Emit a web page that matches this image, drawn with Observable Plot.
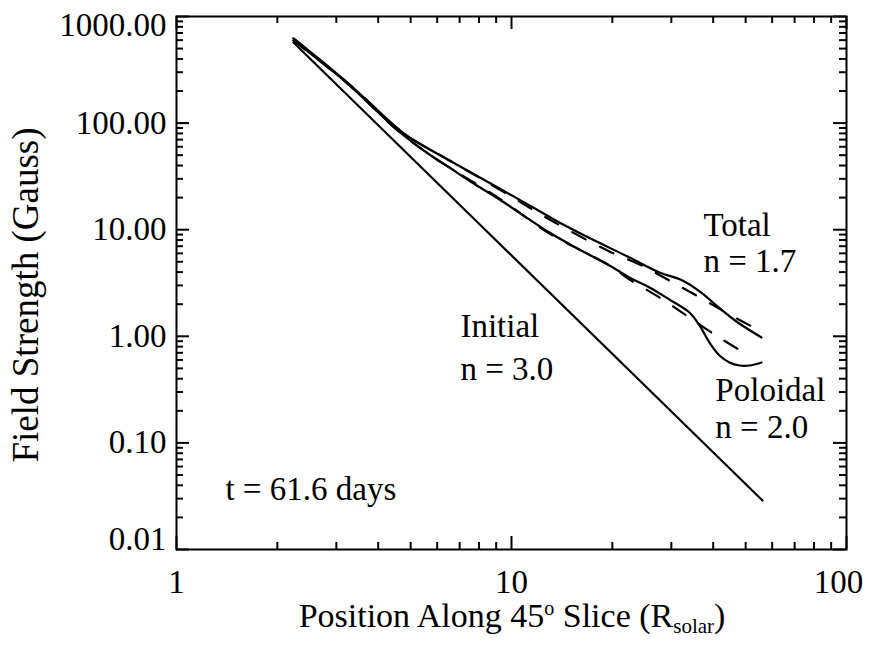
<!DOCTYPE html>
<html><head><meta charset="utf-8">
<script src="https://cdn.jsdelivr.net/npm/d3@7"></script>
<script src="https://cdn.jsdelivr.net/npm/@observablehq/plot@0.6"></script>
<style>
body{margin:0;background:#fff;}
svg{font-family:"Liberation Serif","Times New Roman",serif;}
</style>
</head><body><div id="chart"></div>
<script>
// ---- data ----
const xInitial = [2.235, 56.15];
const yInitial = [570, 0.0288];

const xTotal = [2.235, 3.285, 4.536, 4.961, 6.530, 9.209, 11.47, 13.72, 16.75, 22.50, 27.66, 32.39, 37.17, 40.92, 46.95, 55.76];
const yTotal = [622, 230, 90.9, 73.3, 44.6, 24.35, 16.51, 11.94, 8.63, 5.49, 3.97, 3.34, 2.52, 1.944, 1.377, 0.974];

const xTotalFit = [2.235, 3.285, 4.536, 4.961, 6.530, 9.209, 12.98, 19.61, 24.11, 29.22, 35.67, 44.14, 54.25];
const yTotalFit = [622, 230, 90.9, 73.3, 44.6, 23.8, 12.47, 6.24, 4.72, 3.41, 2.41, 1.64, 1.158];

const xPoloidal = [2.235, 3.285, 4.536, 5.577, 6.530, 7.544, 9.209, 12.98, 15.74, 19.61, 22.50, 25.82, 29.62, 33.99, 36.41, 39.00, 41.78, 44.75, 47.93, 51.33, 55.76];
const yPoloidal = [596, 226, 87.1, 53.0, 38.3, 28.3, 19.2, 9.41, 6.66, 4.62, 3.56, 2.87, 2.21, 1.67, 1.263, 0.874, 0.660, 0.568, 0.532, 0.532, 0.568];

const xPoloidalFit = [2.235, 3.285, 4.536, 5.577, 6.530, 9.209, 12.98, 19.61, 22.50, 27.66, 33.99, 41.20, 49.94];
const yPoloidalFit = [596, 226, 87.1, 53.0, 38.3, 19.6, 9.2, 4.62, 3.41, 2.31, 1.50, 0.996, 0.690];

const xMajor = [1, 10, 100];
const xTickLabels = ["1", "10", "100"];
const xMinor = [2, 3, 4, 5, 6, 7, 8, 9, 20, 30, 40, 50, 60, 70, 80, 90];
const yMajor = [0.01, 0.1, 1, 10, 100, 1000];
const yTickLabels = ["0.01", "0.10", "1.00", "10.00", "100.00", "1000.00"];
const yMinor = [0.02, 0.03, 0.04, 0.05, 0.06, 0.07, 0.08, 0.09,
  0.2, 0.3, 0.4, 0.5, 0.6, 0.7, 0.8, 0.9,
  2, 3, 4, 5, 6, 7, 8, 9,
  20, 30, 40, 50, 60, 70, 80, 90,
  200, 300, 400, 500, 600, 700, 800, 900];

const annotations = [
  {x: 7.04, y: 0.975, text: "Initial"},
  {x: 7.04, y: 0.393, text: "n = 3.0"},
  {x: 37.4, y: 8.8, text: "Total"},
  {x: 37.4, y: 3.97, text: "n = 1.7"},
  {x: 40.6, y: 0.248, text: "Poloidal"},
  {x: 40.6, y: 0.110, text: "n = 2.0"},
  {x: 1.40, y: 0.0294, text: "t = 61.6 days"}
];

// ---- layout ----
const W = 884, H = 647, mL = 176, mR = 38, mT = 16, mB = 98;
const fh = H - mT - mB, fw = W - mL - mR;
const FS = 33;
const FF = "'Liberation Serif', 'Times New Roman', serif";
const toRows = (xs, ys) => xs.map((x, i) => ({x, y: ys[i]}));
const ink = {stroke: "#000", strokeWidth: 2};
const curveInk = {stroke: "#000", strokeWidth: 2.2, curve: "catmull-rom"};
const txt = {fontSize: FS, fontFamily: FF, fill: "#000"};

const tickSet = (vals, len) => [
  Plot.ruleX(vals, {x: d => d, insetTop: fh - len, ...ink}),
  Plot.ruleX(vals, {x: d => d, insetBottom: fh - len, ...ink})
];
const tickSetY = (vals, len) => [
  Plot.ruleY(vals, {y: d => d, insetRight: fw - len, ...ink}),
  Plot.ruleY(vals, {y: d => d, insetLeft: fw - len, ...ink})
];

const n = yMajor.length;
const chart = Plot.plot({
  width: W, height: H,
  marginLeft: mL, marginRight: mR, marginTop: mT, marginBottom: mB,
  x: {type: "log", domain: [1, 100], axis: null},
  y: {type: "log", domain: [0.01, 1000], axis: null},
  style: {background: "#fff", fontFamily: FF},
  marks: [
    ...tickSet(xMajor, 13), ...tickSet(xMinor, 7),
    ...tickSetY(yMajor, 13), ...tickSetY(yMinor, 7),
    Plot.line(toRows(xInitial, yInitial), {x: "x", y: "y", stroke: "#000", strokeWidth: 2.2}),
    Plot.line(toRows(xTotal, yTotal), {x: "x", y: "y", ...curveInk}),
    Plot.line(toRows(xPoloidal, yPoloidal), {x: "x", y: "y", ...curveInk}),
    Plot.line(toRows(xTotalFit, yTotalFit), {x: "x", y: "y", ...curveInk, strokeDasharray: "15 16"}),
    Plot.line(toRows(xPoloidalFit, yPoloidalFit), {x: "x", y: "y", ...curveInk, strokeDasharray: "15 16"}),
    Plot.frame({stroke: "#000", strokeWidth: 2}),
    // x tick labels
    Plot.text(xMajor.slice(0, 2), {x: d => d, text: (d, i) => xTickLabels[i], frameAnchor: "bottom", lineAnchor: "bottom", dy: 43, ...txt}),
    Plot.text(xMajor.slice(2), {x: d => d, text: (d, i) => xTickLabels[i + 2], frameAnchor: "bottom", lineAnchor: "bottom", dy: 43, dx: -8, ...txt}),
    // y tick labels
    Plot.text(yMajor.slice(1, n - 1), {y: d => d, text: (d, i) => yTickLabels[i + 1], frameAnchor: "left", textAnchor: "end", lineAnchor: "middle", dx: -10, ...txt}),
    Plot.text(yMajor.slice(0, 1), {y: d => d, text: () => yTickLabels[0], frameAnchor: "left", textAnchor: "end", lineAnchor: "middle", dx: -10, dy: -10, ...txt}),
    Plot.text(yMajor.slice(n - 1), {y: d => d, text: () => yTickLabels[n - 1], frameAnchor: "left", textAnchor: "end", lineAnchor: "middle", dx: -10, dy: 9, ...txt}),
    // annotations
    Plot.text(annotations, {x: "x", y: "y", text: "text", textAnchor: "start", lineAnchor: "bottom", ...txt}),
    // y title
    Plot.text(["Field Strength (Gauss)"], {text: d => d, frameAnchor: "left", rotate: -90, textAnchor: "middle", lineAnchor: "bottom", dx: 37 - mL, dy: 12, fontSize: 37, fontFamily: FF, fill: "#000"})
  ]
});

// x title with superscript/subscript as real text
const svg = d3.select(chart);
const t = svg.append("text")
  .attr("x", 512).attr("y", 627)
  .attr("text-anchor", "middle")
  .attr("font-family", FF)
  .attr("font-size", 34)
  .attr("fill", "#000");
t.append("tspan").text("Position Along 45");
t.append("tspan").attr("font-size", 20).attr("dy", -12).text("o");
t.append("tspan").attr("dy", 12).text(" Slice (R");
t.append("tspan").attr("font-size", 21).attr("dy", 6).text("solar");
t.append("tspan").attr("dy", -6).text(")");

document.getElementById("chart").appendChild(chart);
</script>
</body></html>
